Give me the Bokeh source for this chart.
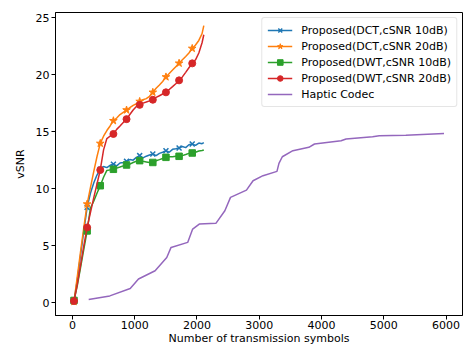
from bokeh.plotting import figure
from bokeh.models import Range1d, Legend, LegendItem, FixedTicker
from bokeh.embed import file_html
from bokeh.resources import INLINE

# ---- data ----
symbols = [25, 78, 131, 183, 236, 289, 342, 394, 447, 500, 553, 605, 658, 711, 764, 816,
           869, 922, 975, 1027, 1080, 1133, 1186, 1238, 1291, 1344, 1397, 1449, 1502, 1555,
           1608, 1660, 1713, 1766, 1819, 1871, 1924, 1977, 2030, 2082, 2110]

dct_10 = [0.1, 2.0, 4.2, 6.3, 8.36, 9.6, 10.5, 11.2, 11.7, 11.95, 11.85, 12.05, 12.15, 12.0,
          12.25, 12.3, 12.4, 12.55, 12.5, 12.75, 12.9, 12.7, 12.85, 12.95, 13.04, 12.9, 13.1,
          13.2, 13.33, 13.2, 13.45, 13.5, 13.57, 13.7, 13.6, 13.85, 13.92, 13.8, 14.0, 13.95, 14.05]

dct_20 = [0.1, 2.3, 4.5, 6.6, 8.65, 10.1, 11.5, 12.8, 13.97, 14.6, 15.1, 15.5, 15.96, 16.2,
          16.5, 16.7, 16.9, 17.1, 17.3, 17.45, 17.65, 17.8, 17.9, 18.1, 18.45, 18.8, 19.1,
          19.4, 19.8, 20.1, 20.4, 20.7, 21.0, 21.3, 21.6, 21.9, 22.3, 22.6, 23.0, 23.6, 24.3]

dwt_10 = [0.2, 1.5, 3.1, 4.7, 6.3, 8.3, 8.9, 9.6, 10.26, 11.0, 11.6, 11.65, 11.7, 11.8, 11.9,
          12.0, 12.08, 12.15, 12.3, 12.4, 12.46, 12.4, 12.35, 12.3, 12.3, 12.45, 12.55, 12.65,
          12.75, 12.8, 12.8, 12.85, 12.84, 12.9, 13.0, 13.1, 13.13, 13.2, 13.3, 13.35, 13.4]

dwt_20 = [0.15, 1.6, 3.3, 5.0, 6.6, 7.9, 9.2, 10.4, 11.64, 13.4, 14.4, 14.6, 14.8, 15.2, 15.5,
          15.8, 16.1, 16.5, 16.9, 17.2, 17.35, 17.5, 17.6, 17.7, 17.8, 18.0, 18.15, 18.3, 18.45,
          18.7, 18.95, 19.2, 19.5, 19.8, 20.2, 20.6, 20.99, 21.3, 21.9, 22.8, 23.5]

haptic_x = [261, 600, 928, 1061, 1328, 1515, 1584, 1851, 1931, 2037, 2304, 2448, 2539, 2795,
            2901, 3061, 3285, 3317, 3371, 3541, 3797, 3888, 4315, 4395, 4821, 4928, 5355, 5968]
haptic_y = [0.29, 0.6, 1.25, 2.08, 2.8, 3.97, 4.85, 5.29, 6.46, 6.9, 6.96, 8.07, 9.24, 9.88,
            10.7, 11.14, 11.52, 12.22, 12.8, 13.33, 13.63, 13.92, 14.2, 14.36, 14.56, 14.65,
            14.68, 14.85]

labels = ["Proposed(DCT,cSNR 10dB)", "Proposed(DCT,cSNR 20dB)",
          "Proposed(DWT,cSNR 10dB)", "Proposed(DWT,cSNR 20dB)", "Haptic Codec"]
x_ticks = [0, 1000, 2000, 3000, 4000, 5000, 6000]
y_ticks = [0, 5, 10, 15, 20, 25]
mark_every = 4
n_marks = 10

FONT = "DejaVu Sans"

p = figure(width=473, height=347, output_backend="svg", toolbar_location=None,
           x_range=Range1d(-272, 6265), y_range=Range1d(-1.12, 25.45),
           min_border_left=55, min_border_right=11, min_border_top=12, min_border_bottom=32)
p.xgrid.visible = False
p.ygrid.visible = False
p.outline_line_color = "black"
p.outline_line_alpha = 1
p.outline_line_width = 1
p.background_fill_color = "white"
p.border_fill_color = "white"

for ax in (p.xaxis[0], p.yaxis[0]):
    ax.major_label_text_font = FONT
    ax.major_label_text_font_size = "11px"
    ax.major_label_text_color = "black"
    ax.axis_label_text_font = FONT
    ax.axis_label_text_font_size = "11px"
    ax.axis_label_text_font_style = "normal"
    ax.axis_label_text_color = "black"
    ax.major_tick_out = 4
    ax.major_tick_in = 0
    ax.minor_tick_out = 0
    ax.minor_tick_in = 0
    ax.major_tick_line_color = "black"
    ax.axis_line_color = "black"
    ax.major_label_standoff = 2

p.xaxis[0].ticker = FixedTicker(ticks=x_ticks)
p.yaxis[0].ticker = FixedTicker(ticks=y_ticks)
p.xaxis[0].axis_label = "Number of transmission symbols"
p.yaxis[0].axis_label = "vSNR"
p.xaxis[0].major_label_standoff = 1
p.xaxis[0].axis_label_standoff = 0
p.yaxis[0].axis_label_standoff = 6

series = [
    (dct_10, "#1f77b4", "x"),
    (dct_20, "#ff7f0e", "star"),
    (dwt_10, "#2ca02c", "square"),
    (dwt_20, "#d62728", "circle"),
]
sizes = {"x": 7, "star": 8, "square": 6.5, "circle": 7}

items = []
for (ys, color, marker), label in zip(series, labels[:4]):
    lr = p.line(symbols, ys, line_color=color, line_width=1.5)
    mx = symbols[::mark_every][:n_marks]
    my = ys[::mark_every][:n_marks]
    if marker == "x":
        sr = p.scatter(mx, my, marker="x", size=sizes[marker], line_color=color, line_width=1.5)
    else:
        sr = p.scatter(mx, my, marker=marker, size=sizes[marker], fill_color=color,
                       line_color=color, line_width=1)
    items.append(LegendItem(label=label, renderers=[lr, sr]))

hr = p.line(haptic_x, haptic_y, line_color="#9467bd", line_width=1.5)
items.append(LegendItem(label=labels[4], renderers=[hr]))

legend = Legend(items=items, location="top_right")
legend.label_text_font = FONT
legend.label_text_font_size = "11px"
legend.label_text_color = "black"
legend.glyph_width = 25
legend.glyph_height = 14
legend.label_height = 14
legend.spacing = 2
legend.padding = 5
legend.margin = 5
legend.label_standoff = 9
legend.border_line_color = "#cccccc"
legend.border_line_width = 1
legend.background_fill_alpha = 0.8
legend.border_radius = 3
p.add_layout(legend)

open("out.html", "w").write(file_html(p, INLINE))
